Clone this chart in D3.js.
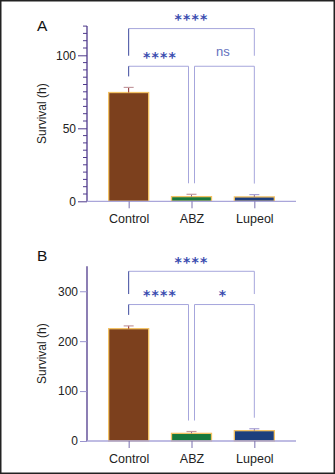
<!DOCTYPE html>
<html><head><meta charset="utf-8">
<script src="https://cdn.jsdelivr.net/npm/d3@7"></script>
<style>html,body{margin:0;padding:0;background:#fff;}svg{display:block;}</style>
</head><body>
<svg id="c" width="335" height="474"></svg>
<script>
const categories = ["Control", "ABZ", "Lupeol"];
const barColors = ["#7c401d", "#17793d", "#1d3f7d"];

const survivalA = [74.5, 3.2, 3.0];
const errorA = [3.5, 1.6, 1.6];
const yTicksA = [0, 50, 100];
const yMinorA = d3.range(0, 121, 5);
const yMaxA = 120;
const compsA = [
  {from: 0, to: 2, label: "****", y: 118.3, drop: 92.5},
  {from: 0, to: 1, label: "****", y: 92.5},
  {from: 1, to: 2, label: "ns", y: 92.5}
];

const survivalB = [225, 15.3, 20.7];
const errorB = [5.6, 3.7, 3.9];
const yTicksB = [0, 100, 200, 300];
const yMaxB = 350;
const compsB = [
  {from: 0, to: 2, label: "****", y: 340, drop: 273.4},
  {from: 0, to: 1, label: "****", y: 273.4},
  {from: 1, to: 2, label: "*", y: 273.4}
];

const svg = d3.select("#c");
const font = "'Liberation Sans', Arial, sans-serif";

svg.append("rect").attr("x", 0.75).attr("y", 0.75).attr("width", 333.5).attr("height", 472.5)
  .attr("fill", "#fff").attr("stroke", "#222").attr("stroke-width", 1.5);

function panel(o) {
  const g = svg.append("g");
  const x = d3.scalePoint().domain(categories).range([87, 296]).padding(0.663);
  const y = d3.scaleLinear().domain([0, o.yMax]).range([o.bottom, o.top]);
  const barW = 40;

  // panel letter
  g.append("text").attr("x", 37).attr("y", o.letterY).text(o.letter)
    .attr("font-family", font).attr("font-size", 15.5).attr("fill", "#111");

  // y axis
  const ya = d3.axisLeft(y).tickValues(o.ticks).tickSize(o.tickLen).tickPadding(2).tickFormat(d3.format("d"));
  const yg = g.append("g").attr("transform", "translate(87,0)").call(ya);
  yg.select(".domain").attr("stroke", "#4f3a8c").attr("stroke-width", 1.3)
    .attr("d", `M0,${o.top}V${o.bottom}`);
  yg.selectAll(".tick line").attr("stroke", o.minor ? "#4f3a8c" : "#9a94cf");
  yg.selectAll(".tick text").attr("font-family", font).attr("font-size", 12).attr("fill", "#222");
  if (o.minor) {
    g.append("g").selectAll("line").data(o.minor.filter(v => o.ticks.indexOf(v) < 0)).join("line")
      .attr("x1", 83).attr("x2", 87).attr("y1", d => y(d)).attr("y2", d => y(d))
      .attr("stroke", "#4f3a8c").attr("stroke-width", 1);
  }

  // y label
  g.append("text").attr("transform", `translate(46,${(o.top + o.bottom) / 2}) rotate(-90)`)
    .attr("text-anchor", "middle").text("Survival (h)")
    .attr("font-family", font).attr("font-size", 12).attr("fill", "#222");

  // bars
  g.append("g").selectAll("rect").data(o.values).join("rect")
    .attr("x", (d, i) => x(categories[i]) - barW / 2)
    .attr("y", d => y(d)).attr("width", barW).attr("height", d => y(0) - y(d))
    .attr("fill", (d, i) => barColors[i]).attr("stroke", "#f3c264").attr("stroke-width", 1.3);

  // error bars
  const eg = g.append("g");
  o.values.forEach((v, i) => {
    const cx = x(categories[i]);
    eg.append("line").attr("x1", cx).attr("x2", cx).attr("y1", y(v)).attr("y2", y(v + o.errors[i]))
      .attr("stroke", i === 0 ? "#8a2a2a" : "#8a6a8a").attr("stroke-width", 1);
    eg.append("line").attr("x1", cx - 5).attr("x2", cx + 5).attr("y1", y(v + o.errors[i])).attr("y2", y(v + o.errors[i]))
      .attr("stroke", i === 2 ? "#a9a2d6" : "#c49aa0").attr("stroke-width", 1.2);
  });

  // x axis
  const xa = d3.axisBottom(x).tickSize(7).tickPadding(6);
  const xg = g.append("g").attr("transform", `translate(0,${o.bottom})`).call(xa);
  xg.select(".domain").attr("stroke", "#aaa6da").attr("stroke-width", 1.3).attr("d", `M87,0H296`);
  xg.selectAll(".tick line").attr("stroke", "#7a70b0");
  xg.selectAll(".tick text").attr("font-family", font).attr("font-size", 12.5).attr("fill", "#222");

  // comparisons
  const cg = g.append("g");
  const errTop = i => y(o.values[i] + o.errors[i]) - 11;
  o.comps.forEach(c => {
    const yy = y(c.y);
    let x1 = x(categories[c.from]), x2 = x(categories[c.to]);
    if (c.from === 1) x1 += 3;
    if (c.to === 1 && c.from === 0) x2 -= 3;
    const bot = i => (c.drop !== undefined ? y(c.drop) - 10.5 : errTop(i));
    const leftColor = c.from === 0 ? "#3d4a9e" : "#a6a6dc";
    cg.append("line").attr("x1", x1).attr("x2", x2).attr("y1", yy).attr("y2", yy)
      .attr("stroke", "#a6a6dc").attr("stroke-width", 1);
    cg.append("line").attr("x1", x1).attr("x2", x1).attr("y1", yy).attr("y2", bot(c.from))
      .attr("stroke", leftColor).attr("stroke-width", 1);
    cg.append("line").attr("x1", x2).attr("x2", x2).attr("y1", yy).attr("y2", bot(c.to))
      .attr("stroke", "#a6a6dc").attr("stroke-width", 1);
    const mx = (x(categories[c.from]) + x(categories[c.to])) / 2;
    const isStar = c.label.indexOf("*") >= 0;
    cg.append("text").attr("x", mx).attr("y", isStar ? yy - 4.5 : yy - 10)
      .attr("text-anchor", "middle").text(c.label)
      .attr("font-family", isStar ? "'DejaVu Sans', sans-serif" : font)
      .attr("font-weight", isStar ? "bold" : "normal")
      .attr("font-size", isStar ? 14 : 13)
      .attr("letter-spacing", isStar ? 1.2 : 0)
      .attr("fill", isStar ? "#3b4daf" : "#6270bd");
  });
}

panel({letter: "A", letterY: 31, top: 26.1, bottom: 201.3, yMax: yMaxA, ticks: yTicksA, minor: yMinorA, tickLen: 9,
  values: survivalA, errors: errorA, comps: compsA});
panel({letter: "B", letterY: 261, top: 266.3, bottom: 441, yMax: yMaxB, ticks: yTicksB, minor: null, tickLen: 7,
  values: survivalB, errors: errorB, comps: compsB});
</script>
</body></html>
